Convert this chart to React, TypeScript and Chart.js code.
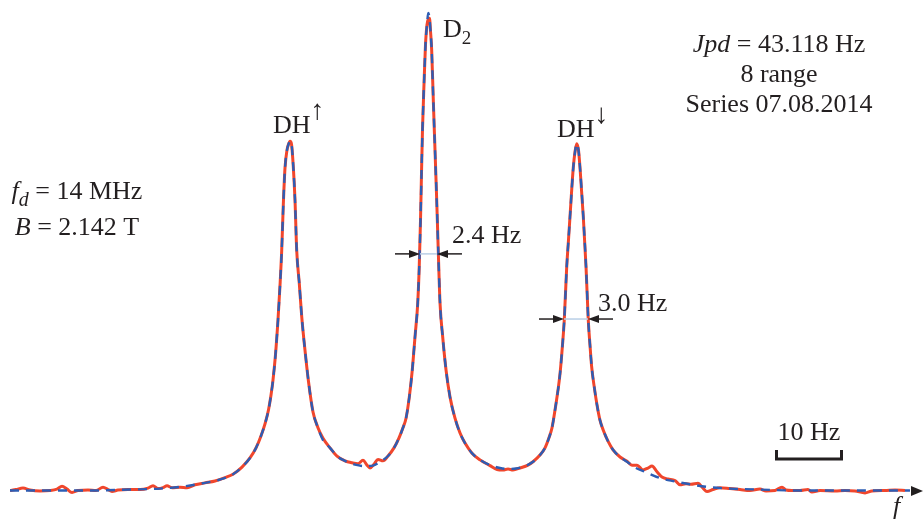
import { useEffect, useRef } from "react";
import { Chart, registerables } from "chart.js";

Chart.register(...registerables);

// ---- Data (frequency in Hz from left end, intensity normalised to D2 peak) ----
const fitFreq = [0, 5.88, 11.76, 17.65, 22.06, 25.74, 28.68, 30.88, 32.79, 34.12, 35.29, 36.18, 36.91, 37.5, 38.01, 38.38, 38.68, 39.04, 39.41, 39.71, 39.96, 40.19, 40.44, 40.74, 40.96, 41.18, 41.4, 41.66, 41.91, 42.16, 42.54, 42.9, 43.38, 43.9, 44.56, 45.29, 46.03, 47.06, 48.09, 49.26, 50.74, 52.21, 53.38, 54.41, 55.59, 56.47, 57.21, 57.79, 58.24, 58.72, 59.16, 59.56, 59.96, 60.19, 60.37, 60.51, 60.66, 60.88, 61.1, 61.32, 61.51, 61.69, 61.84, 62.01, 62.25, 62.5, 62.75, 62.99, 63.24, 63.63, 64.12, 64.71, 65.44, 66.18, 66.91, 67.94, 69.12, 70.59, 72.06, 73.24, 74.41, 75.74, 76.91, 77.94, 78.68, 79.26, 79.71, 80.15, 80.88, 81.25, 81.51, 81.87, 82.13, 82.35, 82.84, 83.09, 83.34, 83.6, 83.82, 84.31, 84.71, 85.04, 85.29, 85.54, 85.88, 86.32, 86.76, 87.25, 87.94, 88.68, 89.71, 90.74, 92.06, 93.38, 95.59, 97.79, 100.0, 102.94, 105.88, 110.29, 116.18, 123.53, 132.35];
const fitIntensity = [0.001, 0.001, 0.001, 0.003, 0.005, 0.010, 0.017, 0.024, 0.035, 0.050, 0.069, 0.090, 0.115, 0.140, 0.169, 0.200, 0.232, 0.284, 0.357, 0.430, 0.503, 0.597, 0.674, 0.712, 0.724, 0.730, 0.724, 0.677, 0.608, 0.503, 0.434, 0.364, 0.294, 0.228, 0.165, 0.132, 0.106, 0.090, 0.073, 0.063, 0.055, 0.052, 0.053, 0.061, 0.073, 0.090, 0.111, 0.132, 0.152, 0.196, 0.253, 0.322, 0.392, 0.472, 0.566, 0.660, 0.754, 0.848, 0.931, 0.973, 0.998, 0.987, 0.960, 0.921, 0.816, 0.712, 0.608, 0.497, 0.392, 0.322, 0.253, 0.196, 0.152, 0.121, 0.100, 0.079, 0.065, 0.054, 0.048, 0.046, 0.047, 0.052, 0.061, 0.075, 0.090, 0.111, 0.132, 0.169, 0.244, 0.305, 0.357, 0.468, 0.524, 0.572, 0.676, 0.708, 0.725, 0.712, 0.676, 0.572, 0.468, 0.357, 0.305, 0.259, 0.221, 0.180, 0.148, 0.127, 0.104, 0.086, 0.071, 0.061, 0.048, 0.040, 0.027, 0.020, 0.014, 0.008, 0.005, 0.003, 0.001, 0.001, 0.001];

// measured spectrum, read in segments
const measFreqLeft = [0, 0.88, 1.91, 2.94, 4.41, 5.88, 6.91, 7.65, 8.38, 9.12, 10.0, 11.47, 12.65, 13.68, 14.41, 15.0, 15.88, 17.35, 19.12, 20.29, 21.03, 21.76, 22.5, 23.09, 23.82, 25.0, 26.03, 27.21, 28.68, 30.15, 31.62];
const measIntLeft = [0.001, 0.003, 0.006, 0.002, 0.000, 0.001, 0.004, 0.010, 0.004, -0.003, 0.001, 0.002, 0.001, 0.008, 0.003, -0.001, 0.002, 0.003, 0.003, 0.006, 0.011, 0.005, 0.007, 0.011, 0.007, 0.008, 0.007, 0.013, 0.017, 0.021, 0.028];
const measFreqPeak1 = [32.79, 34.12, 35.29, 36.18, 36.91, 37.5, 38.01, 38.38, 38.68, 39.04, 39.41, 39.71, 39.96, 40.19, 40.44, 40.74, 40.96, 41.18, 41.4, 41.66, 41.91, 42.16, 42.54, 42.9, 43.38, 43.9, 44.56, 45.29, 46.03, 47.06, 48.09];
const measIntPeak1 = [0.035, 0.050, 0.069, 0.090, 0.115, 0.140, 0.169, 0.200, 0.232, 0.284, 0.357, 0.430, 0.503, 0.597, 0.674, 0.712, 0.724, 0.730, 0.724, 0.677, 0.608, 0.503, 0.434, 0.364, 0.294, 0.228, 0.165, 0.132, 0.110, 0.090, 0.073];
const measFreqValley1 = [49.26, 50.29, 51.18, 51.91, 52.5, 52.94, 53.53, 54.12, 54.85, 55.59];
const measIntValley1 = [0.063, 0.059, 0.057, 0.064, 0.054, 0.048, 0.056, 0.066, 0.063, 0.073];
const measFreqPeak2 = [56.47, 57.21, 57.79, 58.24, 58.72, 59.16, 59.56, 59.96, 60.19, 60.37, 60.51, 60.66, 60.88, 61.1, 61.32, 61.51, 61.69, 61.84, 62.01, 62.25, 62.5, 62.75, 62.99, 63.24, 63.63, 64.12, 64.71, 65.44, 66.18, 66.91, 67.94, 69.12];
const measIntPeak2 = [0.090, 0.111, 0.132, 0.152, 0.196, 0.253, 0.322, 0.392, 0.472, 0.566, 0.660, 0.754, 0.848, 0.931, 0.973, 0.985, 0.987, 0.960, 0.921, 0.816, 0.712, 0.608, 0.497, 0.392, 0.322, 0.253, 0.196, 0.152, 0.121, 0.100, 0.079, 0.065];
const measFreqValley2 = [70.59, 71.62, 72.5, 73.24, 73.97, 75.0, 76.18];
const measIntValley2 = [0.053, 0.045, 0.044, 0.046, 0.044, 0.048, 0.054];
const measFreqPeak3 = [76.91, 77.94, 78.68, 79.26, 79.71, 80.15, 80.88, 81.25, 81.51, 81.87, 82.13, 82.35, 82.84, 83.09, 83.34, 83.6, 83.82, 84.31, 84.71, 85.04, 85.29, 85.54, 85.88, 86.32, 86.76, 87.25, 87.94, 88.68];
const measIntPeak3 = [0.061, 0.075, 0.090, 0.111, 0.132, 0.169, 0.244, 0.305, 0.357, 0.468, 0.524, 0.572, 0.676, 0.708, 0.725, 0.712, 0.676, 0.572, 0.468, 0.357, 0.305, 0.259, 0.221, 0.180, 0.148, 0.127, 0.104, 0.086];
const measFreqRight = [89.71, 90.74, 91.47, 92.21, 93.09, 93.82, 94.41, 95.15, 95.88, 96.76, 97.79, 98.53, 99.41, 100.15, 101.18, 101.91, 102.5, 103.38, 104.41, 105.88, 107.35, 108.82, 110.29, 111.18, 112.5, 113.53, 114.12, 115.0, 116.18, 117.35, 117.94, 119.12, 121.32, 122.79, 124.26, 125.74, 126.76, 128.68, 130.15, 131.62];
const measIntRight = [0.071, 0.062, 0.054, 0.054, 0.044, 0.048, 0.052, 0.040, 0.029, 0.025, 0.022, 0.013, 0.015, 0.014, 0.016, 0.006, -0.001, 0.003, 0.007, 0.005, 0.003, 0.001, 0.004, 0.000, 0.001, 0.008, 0.002, 0.001, 0.001, 0.003, -0.002, 0.001, 0.000, 0.001, 0.000, -0.004, 0.000, 0.001, 0.002, 0.001];

const measFreq = [...measFreqLeft, ...measFreqPeak1, ...measFreqValley1, ...measFreqPeak2, ...measFreqValley2, ...measFreqPeak3, ...measFreqRight];
const measIntensity = [...measIntLeft, ...measIntPeak1, ...measIntValley1, ...measIntPeak2, ...measIntValley2, ...measIntPeak3, ...measIntRight];

// line-width markers (Hz positions of the half-height crossings) and scale bar
const d2Width = { left: 60.29, right: 62.79, level: 0.495, label: "2.4 Hz" };
const dhDownWidth = { left: 81.47, right: 85.0, level: 0.359, label: "3.0 Hz" };
const scaleBar = { from: 112.5, to: 122.5, label: "10 Hz" };

const SERIF = '"Liberation Serif", "Times New Roman", "DejaVu Serif", serif';
const INK = "#231f20";

type Run = { t: string; italic?: boolean; size?: number; dy?: number };

function runFont(r: Run) {
  return `${r.italic ? "italic " : ""}${r.size ?? 26}px ${SERIF}`;
}

function drawRuns(ctx: CanvasRenderingContext2D, runs: Run[], x: number, y: number, align: "left" | "center") {
  const widths = runs.map((r) => {
    ctx.font = runFont(r);
    return ctx.measureText(r.t).width;
  });
  const total = widths.reduce((a, b) => a + b, 0);
  let cx = align === "center" ? x - total / 2 : x;
  ctx.textAlign = "left";
  runs.forEach((r, i) => {
    ctx.font = runFont(r);
    ctx.fillText(r.t, cx, y + (r.dy ?? 0));
    cx += widths[i];
  });
}

function dimArrow(ctx: CanvasRenderingContext2D, tip: number, y: number, dir: number) {
  ctx.beginPath();
  ctx.moveTo(tip - dir * 25, y);
  ctx.lineTo(tip - dir * 9, y);
  ctx.lineWidth = 1.5;
  ctx.stroke();
  ctx.beginPath();
  ctx.moveTo(tip, y);
  ctx.lineTo(tip - dir * 11, y - 4);
  ctx.lineTo(tip - dir * 11, y + 4);
  ctx.closePath();
  ctx.fill();
}

const annotationPlugin = {
  id: "annotations",
  afterDatasetsDraw(chart: any) {
    const ctx: CanvasRenderingContext2D = chart.ctx;
    const xs = chart.scales.x;
    const ys = chart.scales.y;
    ctx.save();
    ctx.fillStyle = INK;
    ctx.strokeStyle = INK;
    ctx.textBaseline = "alphabetic";

    // top-right block
    drawRuns(ctx, [{ t: "Jpd", italic: true }, { t: " = 43.118 Hz" }], 779, 52, "center");
    drawRuns(ctx, [{ t: "8 range" }], 779, 82, "center");
    drawRuns(ctx, [{ t: "Series 07.08.2014" }], 779, 112, "center");

    // left block
    drawRuns(ctx, [{ t: "f", italic: true }, { t: "d", italic: true, size: 20, dy: 7 }, { t: " = 14 MHz" }], 77, 199, "center");
    drawRuns(ctx, [{ t: "B", italic: true }, { t: " = 2.142 T" }], 77, 235, "center");

    // peak labels
    drawRuns(ctx, [{ t: "DH" }, { t: "\u2191", size: 28, dy: -14 }], 273, 133, "left");
    drawRuns(ctx, [{ t: "D" }, { t: "2", size: 19, dy: 7 }], 443, 37, "left");
    drawRuns(ctx, [{ t: "DH" }, { t: "\u2193", size: 28, dy: -14 }], 557, 137, "left");

    // width markers
    [d2Width, dhDownWidth].forEach((w, i) => {
      const yl = ys.getPixelForValue(w.level);
      const xl = xs.getPixelForValue(w.left);
      const xr = xs.getPixelForValue(w.right);
      ctx.save();
      ctx.strokeStyle = "#b9cfe6";
      ctx.lineWidth = 1.5;
      ctx.beginPath();
      ctx.moveTo(xl, yl);
      ctx.lineTo(xr, yl);
      ctx.stroke();
      ctx.restore();
      dimArrow(ctx, xl, yl, 1);
      dimArrow(ctx, xr, yl, -1);
      const tx = i === 0 ? xr + 15 : xr + 10;
      drawRuns(ctx, [{ t: w.label }], tx, yl - (i === 0 ? 11 : 8), "left");
    });

    // scale bar
    const b1 = xs.getPixelForValue(scaleBar.from);
    const b2 = xs.getPixelForValue(scaleBar.to);
    ctx.lineWidth = 3;
    ctx.beginPath();
    ctx.moveTo(b1 + 1.5, 450);
    ctx.lineTo(b1 + 1.5, 459);
    ctx.lineTo(b2 - 1.5, 459);
    ctx.lineTo(b2 - 1.5, 450);
    ctx.stroke();
    drawRuns(ctx, [{ t: scaleBar.label }], (b1 + b2) / 2, 440, "center");

    // axis arrow head and label
    const y0 = ys.getPixelForValue(0);
    ctx.beginPath();
    ctx.moveTo(923, y0);
    ctx.lineTo(911, y0 - 5);
    ctx.lineTo(911, y0 + 5);
    ctx.closePath();
    ctx.fill();
    drawRuns(ctx, [{ t: "f", italic: true }], 893, 514, "left");

    ctx.restore();
  },
};

function zip(xs: number[], ys: number[]) {
  const n = Math.min(xs.length, ys.length);
  const out: { x: number; y: number }[] = [];
  for (let i = 0; i < n; i++) out.push({ x: xs[i], y: ys[i] });
  return out;
}

export default function App() {
  const ref = useRef<HTMLCanvasElement>(null);
  useEffect(() => {
    document.body.style.margin = "0";
    const chart = new Chart(ref.current!, {
      type: "line",
      data: {
        datasets: [
          {
            label: "Fit",
            data: zip(fitFreq, fitIntensity),
            borderColor: "#2d5db4",
            borderWidth: 2.4,
            borderDash: [9, 7],
            pointRadius: 0,
            cubicInterpolationMode: "monotone",
            fill: false,
            order: 0,
          },
          {
            label: "Measured",
            data: zip(measFreq, measIntensity),
            borderColor: "#f0462c",
            borderWidth: 3,
            pointRadius: 0,
            cubicInterpolationMode: "monotone",
            fill: false,
            order: 1,
          },
        ],
      },
      options: {
        animation: false,
        responsive: false,
        layout: { padding: { left: 10, right: 9.6, top: 0, bottom: 12.84 } },
        scales: {
          x: { type: "linear", min: 0, max: 133, display: false },
          y: { type: "linear", min: -0.04, max: 1.025, display: false },
        },
        plugins: { legend: { display: false }, tooltip: { enabled: false } },
      },
      plugins: [annotationPlugin],
    } as any);
    return () => chart.destroy();
  }, []);
  return (
    <div style={{ width: 924, height: 523 }}>
      <canvas ref={ref} width={924} height={523} />
    </div>
  );
}
